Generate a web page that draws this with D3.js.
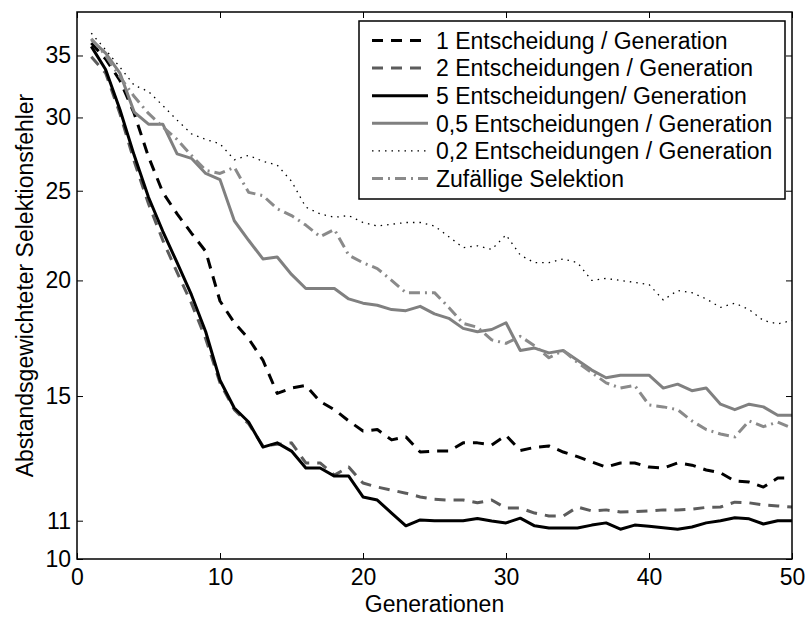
<!DOCTYPE html>
<html>
<head>
<meta charset="utf-8">
<script src="https://cdn.jsdelivr.net/npm/d3@7"></script>
<style>
  html, body { margin: 0; padding: 0; background: #fff; }
  svg text { font-family: "Liberation Sans", Arial, Helvetica, sans-serif; fill: #000; }
</style>
</head>
<body>
<svg id="chart" width="805" height="617"></svg>
<script>
// ---- data ----
const generations = [1,2,3,4,5,6,7,8,9,10,11,12,13,14,15,16,17,18,19,20,21,22,23,24,25,26,27,28,29,30,31,32,33,34,35,36,37,38,39,40,41,42,43,44,45,46,47,48,49,50];

const ent1 = [36.1,34.7,32.9,30.3,27.2,24.9,23.6,22.5,21.5,19.0,18.0,17.3,16.4,15.1,15.3,15.4,14.8,14.5,14.1,13.75,13.8,13.45,13.55,13.05,13.08,13.08,13.35,13.35,13.28,13.6,13.1,13.2,13.25,13.05,12.9,12.73,12.57,12.7,12.7,12.57,12.54,12.7,12.63,12.48,12.39,12.14,12.11,11.96,12.23,12.23];
const ent2 = [34.9,33.5,30.3,26.9,24.2,22.1,20.4,18.9,17.3,15.5,14.5,14.0,13.25,13.3,13.35,12.7,12.7,12.32,12.57,12.08,11.96,11.87,11.78,11.67,11.6,11.58,11.58,11.5,11.58,11.35,11.35,11.21,11.13,11.13,11.38,11.27,11.3,11.24,11.25,11.27,11.3,11.3,11.32,11.37,11.38,11.52,11.5,11.44,11.41,11.38];
const ent5 = [35.8,33.8,30.6,27.3,24.6,22.6,20.9,19.3,17.6,15.6,14.56,14.06,13.21,13.35,13.08,12.54,12.54,12.29,12.29,11.67,11.58,11.21,10.86,11.02,11.0,11.0,11.0,11.06,10.99,10.94,11.07,10.86,10.8,10.8,10.8,10.88,10.94,10.77,10.88,10.85,10.81,10.77,10.83,10.94,11.0,11.08,11.05,10.91,11.0,11.0];
const ent05 = [36.4,35.2,33.5,30.4,29.5,29.5,27.4,27.1,26.1,25.7,23.2,22.1,21.1,21.2,20.3,19.6,19.6,19.6,19.1,18.9,18.8,18.6,18.55,18.75,18.4,18.2,17.75,17.6,17.7,18.0,16.8,16.9,16.7,16.8,16.4,16.0,15.7,15.8,15.8,15.8,15.3,15.45,15.2,15.3,14.7,14.5,14.7,14.6,14.3,14.3];
const ent02 = [37.0,35.5,34.0,32.5,32.0,30.9,29.8,28.8,28.4,28.1,27.0,27.3,26.9,26.65,25.6,24.0,23.6,23.4,23.5,23.1,22.9,23.0,23.1,23.1,22.9,22.3,21.7,21.8,21.6,22.4,21.3,20.9,20.9,21.1,20.9,20.0,20.1,20.0,19.9,19.8,19.05,19.5,19.4,19.1,18.7,18.9,18.6,18.1,17.95,18.1];
const zufall = [36.5,35.0,33.2,31.6,30.3,29.3,28.4,27.3,26.3,26.1,26.5,24.9,24.7,23.9,23.5,22.95,22.3,22.7,21.3,20.9,20.6,20.0,19.4,19.4,19.4,18.7,17.97,17.8,17.25,17.1,17.4,17.0,16.5,16.8,16.3,15.9,15.5,15.3,15.4,14.67,14.6,14.5,14.1,13.8,13.65,13.55,14.1,13.9,14.06,13.85];

const seriesNames = ["1 Entscheidung / Generation","2 Entscheidungen / Generation","5 Entscheidungen/ Generation","0,5 Entscheidungen / Generation","0,2 Entscheidungen / Generation","Zufällige Selektion"];
const seriesValues = [ent1, ent2, ent5, ent05, ent02, zufall];

const xTicks = [0,10,20,30,40,50];
const yTicks = [10,11,15,20,25,30,35];
const xLabel = "Generationen";
const yLabel = "Abstandsgewichteter Selektionsfehler";

// ---- styles ----
const styles = [
  {color:"#000000", width:3, dash:"11,8"},
  {color:"#5c5c5c", width:3, dash:"11,8"},
  {color:"#000000", width:3, dash:null},
  {color:"#808080", width:3, dash:null},
  {color:"#000000", width:1.3, dash:"1.5,5"},
  {color:"#8a8a8a", width:3, dash:"11,5,2,5"}
];

const W = 805, H = 617;
const margin = {left:77, right:13, top:12, bottom:58};
const svg = d3.select("#chart");

const x = d3.scaleLinear().domain([0,50]).range([margin.left, W - margin.right]);
const y = d3.scaleLog().domain([10,39]).range([H - margin.bottom, margin.top]);

const FS = 23;

// plot lines
const line = d3.line().x((d,i)=>x(generations[i])).y(d=>y(d));
seriesValues.forEach((vals, k) => {
  const s = styles[k];
  svg.append("path")
    .datum(vals)
    .attr("d", line)
    .attr("fill","none")
    .attr("stroke", s.color)
    .attr("stroke-width", s.width)
    .attr("stroke-linejoin","round")
    .attr("stroke-dasharray", s.dash);
});

// axes (inside ticks, mirrored)
const tl = 6;
const gB = svg.append("g").attr("transform",`translate(0,${H-margin.bottom})`)
  .call(d3.axisBottom(x).tickValues(xTicks).tickSize(-tl).tickPadding(10).tickFormat(d3.format("d")));
const gT = svg.append("g").attr("transform",`translate(0,${margin.top})`)
  .call(d3.axisTop(x).tickValues(xTicks).tickSize(-tl).tickFormat(""));
const gL = svg.append("g").attr("transform",`translate(${margin.left},0)`)
  .call(d3.axisLeft(y).tickValues(yTicks).tickSize(-tl).tickPadding(6).tickFormat(d3.format("d")));
const gR = svg.append("g").attr("transform",`translate(${W-margin.right},0)`)
  .call(d3.axisRight(y).tickValues(yTicks).tickSize(-tl).tickFormat(""));
[gB,gT,gL,gR].forEach(g => {
  g.select(".domain").remove();
  g.selectAll("line").attr("stroke","#000").attr("stroke-width",1);
  g.selectAll("text").style("font-size",FS+"px").attr("fill","#000");
});
gB.selectAll("text").attr("dy","0.71em");

// frame
svg.append("rect")
  .attr("x", margin.left).attr("y", margin.top)
  .attr("width", W - margin.left - margin.right)
  .attr("height", H - margin.top - margin.bottom)
  .attr("fill","none").attr("stroke","#000").attr("stroke-width",1.5);

// axis labels
svg.append("text")
  .attr("x", (margin.left + W - margin.right)/2)
  .attr("y", 612)
  .attr("text-anchor","middle")
  .style("font-size",FS+"px")
  .text(xLabel);
svg.append("text")
  .attr("transform",`translate(33,${(margin.top + H - margin.bottom)/2}) rotate(-90)`)
  .attr("text-anchor","middle")
  .style("font-size",FS+"px")
  .text(yLabel);

// legend
const lg = svg.append("g");
const lgX = 359, lgY = 21, lgW = 426, lgH = 178;
lg.append("rect").attr("x",lgX).attr("y",lgY).attr("width",lgW).attr("height",lgH)
  .attr("fill","#fff").attr("stroke","#000").attr("stroke-width",1.5);
const rowH = 27.6;
seriesNames.forEach((name,k) => {
  const cy = lgY + 19.5 + k*rowH;
  const s = styles[k];
  lg.append("line").attr("x1",372).attr("x2",428).attr("y1",cy).attr("y2",cy)
    .attr("stroke",s.color).attr("stroke-width",s.width).attr("stroke-dasharray",s.dash);
  lg.append("text").attr("x",436).attr("y",cy).attr("dy","0.36em")
    .style("font-size",FS+"px").text(name);
});
</script>
</body>
</html>
